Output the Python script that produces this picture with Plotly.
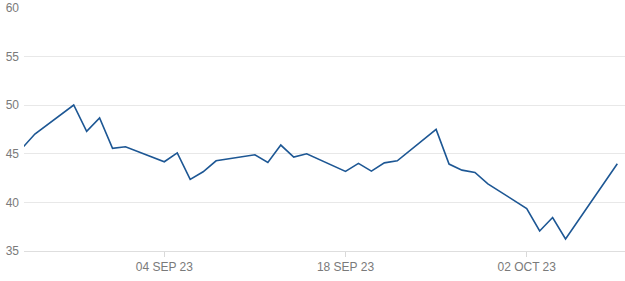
import plotly.graph_objects as go

dates = [
    "2023-08-24", "2023-08-25", "2023-08-28", "2023-08-29", "2023-08-30", "2023-08-31",
    "2023-09-01", "2023-09-04", "2023-09-05", "2023-09-06", "2023-09-07", "2023-09-08",
    "2023-09-11", "2023-09-12", "2023-09-13", "2023-09-14", "2023-09-15", "2023-09-18",
    "2023-09-19", "2023-09-20", "2023-09-21", "2023-09-22", "2023-09-25", "2023-09-26",
    "2023-09-27", "2023-09-28", "2023-09-29", "2023-10-02", "2023-10-03", "2023-10-04",
    "2023-10-05", "2023-10-09",
]
values = [
    45.55, 47.03, 50.02, 47.31, 48.68, 45.56,
    45.72, 44.18, 45.10, 42.36, 43.15, 44.28,
    44.90, 44.11, 45.90, 44.66, 45.00, 43.19,
    44.01, 43.22, 44.07, 44.28, 47.51, 43.94,
    43.32, 43.08, 41.91, 39.37, 37.06, 38.44,
    36.24, 43.97,
]

x_tick_vals = ["2023-09-04", "2023-09-18", "2023-10-02"]
x_tick_text = ["04 SEP 23", "18 SEP 23", "02 OCT 23"]
y_tick_vals = [35, 40, 45, 50, 55, 60]

fig = go.Figure()
fig.add_trace(go.Scatter(
    x=dates, y=values, mode="lines",
    line=dict(color="#1d5794", width=1.6),
    hoverinfo="skip",
))

fig.update_layout(
    width=625, height=281,
    margin=dict(l=24, r=0, t=8, b=30),
    paper_bgcolor="white", plot_bgcolor="white",
    showlegend=False,
    font=dict(family="Liberation Sans, Arial, sans-serif", size=12, color="#7a7a7a"),
    xaxis=dict(
        type="date",
        range=["2023-08-24 03:50", "2023-10-09 14:15"],
        tickvals=x_tick_vals, ticktext=x_tick_text,
        showgrid=False, zeroline=False,
        showline=True, linecolor="#dedede", linewidth=1,
        ticks="outside", ticklen=5, tickcolor="#d9d9d9", tickwidth=1,
        tickfont=dict(size=12, color="#7a7a7a"),
    ),
    yaxis=dict(
        range=[35, 60],
        tickvals=y_tick_vals,
        showgrid=True, gridcolor="#e8e8e8", gridwidth=1,
        zeroline=False, showline=False, ticks="",
        tickfont=dict(size=12, color="#7a7a7a"),
        ticklabelstandoff=4,
    ),
)

fig.write_html("out.html")
